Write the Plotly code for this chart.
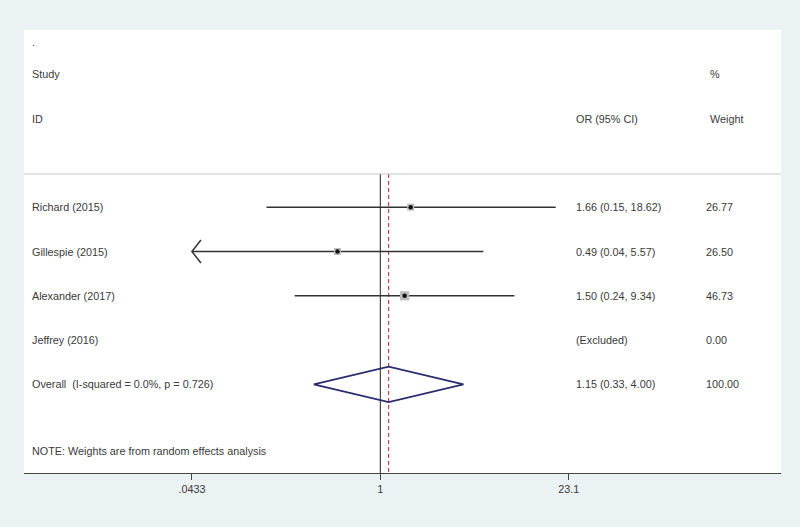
import math
import plotly.graph_objects as go

# ---- data ----
studies = ["Richard (2015)", "Gillespie (2015)", "Alexander (2017)", "Jeffrey (2016)"]
or_est = [1.66, 0.49, 1.50, None]
ci_low = [0.15, 0.04, 0.24, None]
ci_high = [18.62, 5.57, 9.34, None]
weights = [26.77, 26.50, 46.73, 0.00]
overall_label = "Overall  (I-squared = 0.0%, p = 0.726)"
overall_est = 1.15
overall_low = 0.33
overall_high = 4.00
overall_weight = 100.00
tick_vals = [0.0433, 1, 23.1]
tick_text = [".0433", "1", "23.1"]
note_text = "NOTE: Weights are from random effects analysis"

# ---- style ----
BG = "#EAF2F3"
TXT = "#3A3A3A"
FONT = "Liberation Sans, Arial, sans-serif"
FS = 10.8
xmin, xmax = min(tick_vals), max(tick_vals)

fig = go.Figure()

rows = list(range(1, len(studies) + 1))
overall_row = len(studies) + 1
note_row = overall_row + 1.5
top_row, bottom_row = -3, 7
sep_row = 0.25

# null line and overall line
fig.add_trace(go.Scatter(x=[1, 1], y=[sep_row, bottom_row], mode="lines",
                         line=dict(color="#222222", width=1), hoverinfo="skip"))
fig.add_trace(go.Scatter(x=[overall_est, overall_est], y=[sep_row, bottom_row], mode="lines",
                         line=dict(color="#A0233A", width=1, dash="4px,3px"), hoverinfo="skip"))

box_scale = 7 / math.sqrt(26.77)
for r, est, lo, hi, w in zip(rows, or_est, ci_low, ci_high, weights):
    if est is None:
        continue
    lo_c = max(lo, xmin)
    hi_c = min(hi, xmax)
    fig.add_trace(go.Scatter(x=[lo_c, hi_c], y=[r, r], mode="lines",
                             line=dict(color="#333333", width=1.5), hoverinfo="skip"))
    if lo < xmin:
        f = math.exp(0.15)
        fig.add_trace(go.Scatter(x=[lo_c * f, lo_c, lo_c * f], y=[r - 0.26, r, r + 0.26],
                                 mode="lines", line=dict(color="#333333", width=1.5),
                                 hoverinfo="skip"))
    fig.add_trace(go.Scatter(x=[est], y=[r], mode="markers",
                             marker=dict(symbol="square", size=box_scale * math.sqrt(w),
                                         color="#BDBDBD", line=dict(width=0)),
                             hoverinfo="skip"))
    fig.add_trace(go.Scatter(x=[est], y=[r], mode="markers",
                             marker=dict(symbol="circle", size=4.5, color="#111111"),
                             hoverinfo="skip"))

# overall diamond
h = 0.4
fig.add_trace(go.Scatter(
    x=[overall_low, overall_est, overall_high, overall_est, overall_low],
    y=[overall_row, overall_row - h, overall_row, overall_row + h, overall_row],
    mode="lines", line=dict(color="#2A2C6E", width=1.6), hoverinfo="skip"))

# separator line
fig.add_shape(type="line", xref="paper", x0=0, x1=1, yref="y", y0=sep_row, y1=sep_row,
              line=dict(color="#C8C8C8", width=1))

# text columns
x_study = (30 - 24) / 757
x_or = (574 - 24) / 757
x_wh = (707.5 - 24) / 757
x_wv = (704 - 24) / 757


def txt(x, y, s):
    fig.add_annotation(x=x, y=y, xref="paper", yref="y", text=s.replace("  ", "\u00a0\u00a0"),
                       showarrow=False, xanchor="left", yanchor="middle",
                       font=dict(family=FONT, size=FS, color=TXT))


txt(x_study, -2.73, ".")
txt(x_study, -2, "Study")
txt(x_study, -1, "ID")
txt(x_or, -1, "OR (95% CI)")
txt(x_wh, -2, "%")
txt(x_wh, -1, "Weight")

for r, s, est, lo, hi, w in zip(rows, studies, or_est, ci_low, ci_high, weights):
    txt(x_study, r, s)
    if est is None:
        txt(x_or, r, "(Excluded)")
    else:
        txt(x_or, r, f"{est:.2f} ({lo:.2f}, {hi:.2f})")
    txt(x_wv, r, f"{w:.2f}")

txt(x_study, overall_row, overall_label)
txt(x_or, overall_row, f"{overall_est:.2f} ({overall_low:.2f}, {overall_high:.2f})")
txt(x_wv, overall_row, f"{overall_weight:.2f}")
txt(x_study, note_row, note_text)

k = 60.0  # px per ln unit
left_ln = (24 - 380.3) / k
right_ln = (781 - 380.3) / k

fig.update_layout(
    width=800, height=527,
    margin=dict(l=24, r=19, t=30, b=54),
    paper_bgcolor=BG, plot_bgcolor="white",
    showlegend=False,
    xaxis=dict(type="log", range=[left_ln / math.log(10), right_ln / math.log(10)],
               tickvals=tick_vals, ticktext=tick_text, ticks="outside", ticklen=6,
               tickcolor="#444444", tickwidth=1, showline=True, linecolor="#444444",
               linewidth=1, showgrid=False, zeroline=False, mirror=False,
               tickfont=dict(family=FONT, size=FS, color=TXT), fixedrange=True),
    yaxis=dict(range=[bottom_row, top_row], visible=False, showgrid=False,
               zeroline=False, fixedrange=True),
)

fig.write_html("out.html", config={"displayModeBar": False},
               post_script="document.body.style.margin='0';document.body.style.overflow='hidden';")
